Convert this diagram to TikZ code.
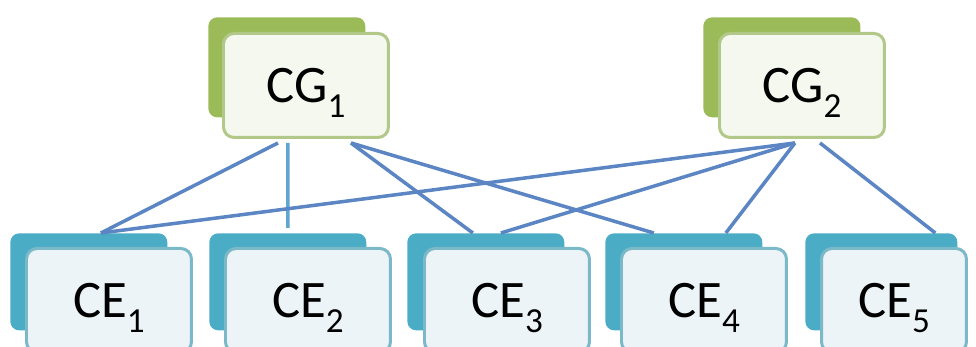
\documentclass[tikz,border=0pt]{standalone}
\usepackage{fontspec}
\setmainfont{Carlito}
\usepackage{tikz}
\usetikzlibrary{positioning}
\definecolor{cgback}{HTML}{9BBB59}
\definecolor{cgedge}{HTML}{B1C888}
\definecolor{cgfill}{HTML}{F5F8EF}
\definecolor{ceback}{HTML}{4BACC6}
\definecolor{ceedge}{HTML}{7BB8C8}
\definecolor{cefill}{HTML}{EDF4F8}
\definecolor{linkcol}{HTML}{5B86C3}
\definecolor{linkcolb}{HTML}{5FA6D0}
\newcommand{\subidx}[1]{\raisebox{-8.5pt}{\fontsize{20}{22}\selectfont #1}}
\tikzset{
  backbox/.style={rectangle, rounded corners=5pt, inner sep=0pt, anchor=north west,
    minimum width=3.14cm, minimum height=2cm},
  frontbox/.style={rectangle, rounded corners=6pt, inner sep=0pt, anchor=north west,
    line width=1.7pt, minimum width=3.3cm, minimum height=2.08cm,
    font=\fontsize{30}{32}\selectfont, text height=19pt, text depth=0pt},
  cgb/.style={backbox, fill=cgback},
  cgf/.style={frontbox, draw=cgedge, fill=cgfill},
  ceb/.style={backbox, fill=ceback, minimum height=1.94cm},
  cef/.style={frontbox, draw=ceedge, fill=cefill},
  link/.style={draw=linkcol, line width=2pt},
}
\begin{document}
\begin{tikzpicture}[x=0.02cm, y=-0.02cm]
  \useasboundingbox (0,0) rectangle (976,347);
  \clip (0,0) rectangle (976,347);

  \node[cgb] (cg1b) at (208,17) {};
  \node[cgf] (cg1) at ([shift={(14,15)}]cg1b.north west) {CG\subidx{1}};
  \node[cgb] (cg2b) at (703,17) {};
  \node[cgf] (cg2) at ([shift={(15,15)}]cg2b.north west) {CG\subidx{2}};

  \node[ceb] (ce1b) at (10,233) {};
  \node[cef] (ce1) at ([shift={(15,14)}]ce1b.north west) {CE\subidx{1}};
  \node[ceb] (ce2b) at (209,233) {};
  \node[cef] (ce2) at ([shift={(15,14)}]ce2b.north west) {CE\subidx{2}};
  \node[ceb] (ce3b) at (407,233) {};
  \node[cef] (ce3) at ([shift={(16,14)}]ce3b.north west) {CE\subidx{3}};
  \node[ceb] (ce4b) at (605,233) {};
  \node[cef] (ce4) at ([shift={(15,14)}]ce4b.north west) {CE\subidx{4}};
  \node[ceb, minimum width=3.04cm] (ce5b) at (805,233) {};
  \node[cef, minimum width=2.9cm] (ce5) at ([shift={(15,14)}]ce5b.north west) {CE\subidx{5}};

  \draw[link] ([shift={(-28,4)}]cg1.south) -- ([shift={(12,0)}]ce1b.north);
  \draw[link, draw=linkcolb] ([shift={(-18,4)}]cg1.south) -- ([shift={(0,-5)}]ce2b.north);
  \draw[link] ([shift={(45,4)}]cg1.south) -- ([shift={(-13,0)}]ce3b.north);
  \draw[link] ([shift={(45,4)}]cg1.south) -- ([shift={(-30,0)}]ce4b.north);
  \draw[link] ([shift={(-7,4)}]cg2.south) -- ([shift={(12,0)}]ce1b.north);
  \draw[link] ([shift={(-7,4)}]cg2.south) -- ([shift={(15,0)}]ce3b.north);
  \draw[link] ([shift={(-7,4)}]cg2.south) -- ([shift={(42,0)}]ce4b.north);
  \draw[link] ([shift={(18,4)}]cg2.south) -- ([shift={(54,0)}]ce5b.north);
\end{tikzpicture}
\end{document}
